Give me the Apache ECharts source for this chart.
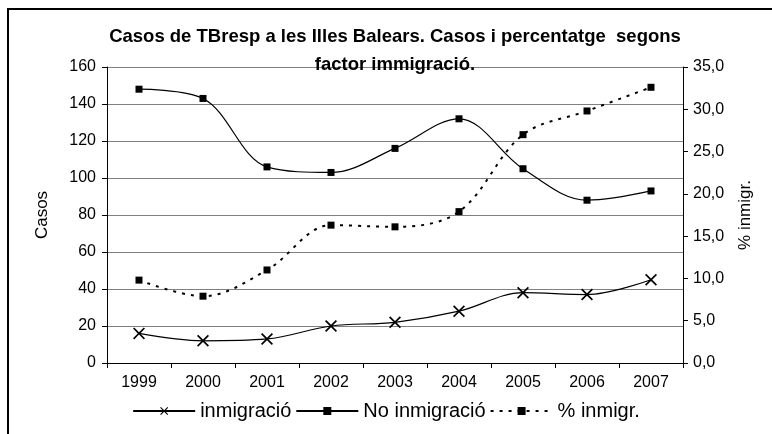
<!DOCTYPE html>
<html>
<head>
<meta charset="utf-8">
<script src="https://cdn.jsdelivr.net/npm/echarts@6/dist/echarts.min.js"></script>
<style>html,body{margin:0;padding:0;background:#fff}#c{width:772px;height:434px}</style>
</head>
<body>
<div id="c"></div>
<script>
const years = ['1999','2000','2001','2002','2003','2004','2005','2006','2007'];
const inmigracio = [16, 12, 13, 20, 22, 28, 38, 37, 45];
const noInmigracio = [148, 143, 106, 103, 116, 132, 105, 88, 93];
const pctInmigr = [9.8, 7.9, 11.0, 16.3, 16.1, 17.9, 27.0, 29.8, 32.6];
const leftTicks = {min: 0, max: 160, interval: 20};
const rightTicks = {min: 0, max: 35, interval: 5};

const font = 'Liberation Sans, Arial, sans-serif';
const xSymbol = 'path://M0,1L1,0L5,4L9,0L10,1L6,5L10,9L9,10L5,6L1,10L0,9L4,5Z';

const chart = echarts.init(document.getElementById('c'));
chart.setOption({
  animation: false,
  backgroundColor: '#fff',
  textStyle: {fontFamily: font, color: '#000'},
  title: {
    text: 'Casos de TBresp a les Illes Balears. Casos i percentatge  segons\nfactor immigració.',
    left: 390, textAlign: 'center', top: 18,
    textStyle: {fontFamily: font, fontSize: 18.5, fontWeight: 'bold', color: '#000', lineHeight: 28}
  },
  graphic: [{
    type: 'rect', shape: {x: 8, y: 9, width: 800, height: 500},
    style: {fill: 'none', stroke: '#000', lineWidth: 2}, silent: true
  }],
  grid: {left: 107, right: 89, top: 67, bottom: 71, containLabel: false},
  legend: {
    bottom: 8, left: 'center', itemWidth: 62, itemHeight: 10, itemGap: 4,
    textStyle: {fontFamily: font, fontSize: 20, color: '#000'},
    data: ['inmigració', 'No inmigració', '% inmigr.']
  },
  xAxis: {
    type: 'category', data: years, boundaryGap: true,
    axisLine: {lineStyle: {color: '#000', width: 1}},
    axisTick: {show: true, inside: false, length: 5, lineStyle: {color: '#000'}},
    axisLabel: {fontFamily: font, fontSize: 16, color: '#000', margin: 12}
  },
  yAxis: [{
    type: 'value', min: leftTicks.min, max: leftTicks.max, interval: leftTicks.interval,
    name: 'Casos', nameLocation: 'middle', nameGap: 56, nameRotate: 90,
    nameTextStyle: {fontFamily: font, fontSize: 17, color: '#000'},
    axisLine: {show: true, lineStyle: {color: '#000'}},
    axisTick: {show: true, length: 5, lineStyle: {color: '#000'}},
    axisLabel: {fontFamily: font, fontSize: 16, color: '#000', margin: 11},
    splitLine: {show: true, lineStyle: {color: '#808080', width: 1}}
  }, {
    type: 'value', position: 'right', min: rightTicks.min, max: rightTicks.max, interval: rightTicks.interval,
    name: '% inmigr.', nameLocation: 'middle', nameGap: 54, nameRotate: 90,
    nameTextStyle: {fontFamily: font, fontSize: 17, color: '#000'},
    axisLine: {show: true, lineStyle: {color: '#000'}},
    axisTick: {show: true, length: 5, lineStyle: {color: '#000'}},
    axisLabel: {fontFamily: font, fontSize: 16, color: '#000', margin: 10,
      formatter: v => v.toFixed(1).replace('.', ',')},
    splitLine: {show: false}
  }],
  series: [{
    name: 'inmigració', type: 'line', yAxisIndex: 0, data: inmigracio, smooth: 0.35,
    symbol: xSymbol, symbolSize: 12,
    lineStyle: {color: '#000', width: 1.2}, itemStyle: {color: '#000'}
  }, {
    name: 'No inmigració', type: 'line', yAxisIndex: 0, data: noInmigracio, smooth: 0.35,
    symbol: 'rect', symbolSize: 7,
    lineStyle: {color: '#000', width: 1.2}, itemStyle: {color: '#000'}
  }, {
    name: '% inmigr.', type: 'line', yAxisIndex: 1, data: pctInmigr, smooth: 0.35,
    symbol: 'rect', symbolSize: 7,
    lineStyle: {color: '#000', width: 2, type: [3, 6]}, itemStyle: {color: '#000'}
  }]
});
</script>
</body>
</html>
